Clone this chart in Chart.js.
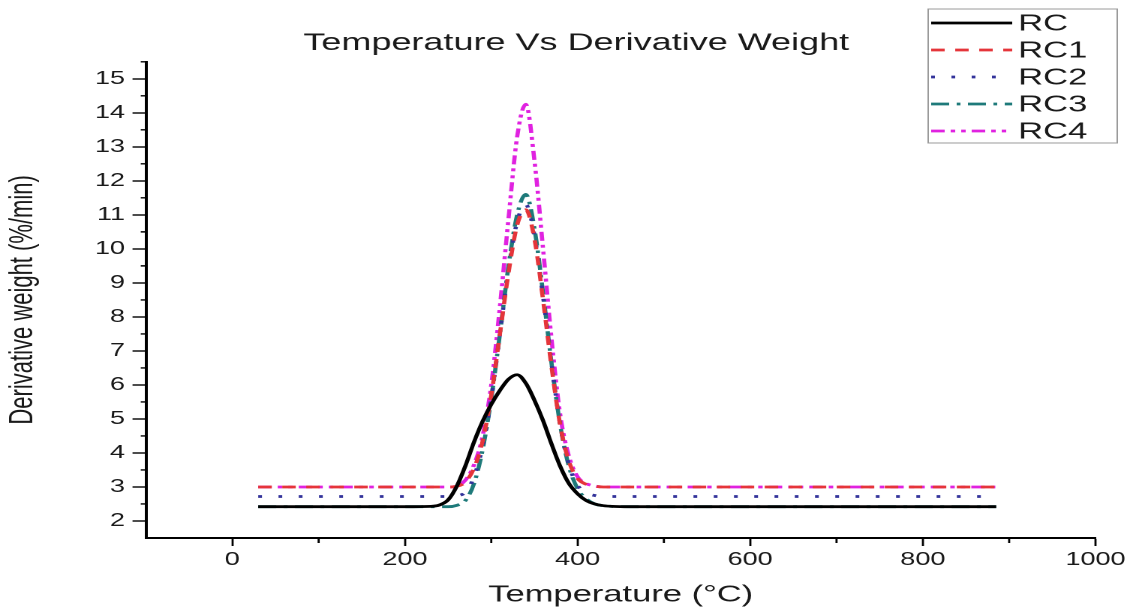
<!DOCTYPE html>
<html>
<head>
<meta charset="utf-8">
<script src="https://cdn.jsdelivr.net/npm/chart.js@4.4.1/dist/chart.umd.min.js"></script>
<style>
  html, body { margin: 0; padding: 0; background: #fff; }
  #c { display: block; width: 1130px; height: 612px; }
</style>
</head>
<body>
<canvas id="c" width="753" height="612" style="width:1130px;height:612px;"></canvas>
<script>
// ---- data ----
const temps = [30, 100, 200, 230, 240, 250, 260, 270, 280, 290, 300, 310, 320, 330, 340, 350, 360, 370, 380, 390, 400, 410, 420, 430, 440, 460, 500, 600, 700, 800, 885];
const rc  = [2.42, 2.42, 2.42, 2.43, 2.47, 2.62, 3.02, 3.62, 4.32, 4.93, 5.43, 5.84, 6.17, 6.3, 6.05, 5.55, 4.95, 4.25, 3.6, 3.1, 2.8, 2.6, 2.5, 2.45, 2.43, 2.42, 2.42, 2.42, 2.42, 2.42, 2.42];
const rc1 = [3.0, 3.0, 3.0, 3.0, 3.0, 3.0, 3.02, 3.15, 3.55, 4.35, 5.7, 7.5, 9.3, 10.7, 11.15, 10.3, 8.5, 6.5, 4.8, 3.75, 3.25, 3.08, 3.02, 3.0, 3.0, 3.0, 3.0, 3.0, 3.0, 3.0, 3.0];
const rc2 = [2.72, 2.72, 2.72, 2.72, 2.72, 2.72, 2.74, 2.85, 3.3, 4.2, 5.6, 7.5, 9.4, 10.8, 11.3, 10.4, 8.6, 6.6, 4.8, 3.65, 3.05, 2.82, 2.75, 2.72, 2.72, 2.72, 2.72, 2.72, 2.72, 2.72, 2.72];
const rc3 = [2.42, 2.42, 2.42, 2.42, 2.42, 2.42, 2.46, 2.6, 3.1, 4.1, 5.6, 7.5, 9.5, 11.0, 11.6, 10.6, 8.7, 6.6, 4.8, 3.6, 2.95, 2.65, 2.5, 2.45, 2.43, 2.42, 2.42, 2.42, 2.42, 2.42, 2.42];
const rc4 = [3.0, 3.0, 3.0, 3.0, 3.0, 3.0, 3.03, 3.2, 3.65, 4.5, 6.0, 8.3, 10.9, 13.3, 14.25, 12.6, 10.0, 7.3, 5.1, 3.9, 3.3, 3.1, 3.03, 3.0, 3.0, 3.0, 3.0, 3.0, 3.0, 3.0, 3.0];
const seriesLabels = ['RC', 'RC1', 'RC2', 'RC3', 'RC4'];
const xTickValues = [0, 200, 400, 600, 800, 1000];
const yTickValues = [2, 3, 4, 5, 6, 7, 8, 9, 10, 11, 12, 13, 14, 15];
const xMinorValues = [100, 300, 500, 700, 900];
const yMinorValues = [2.5, 3.5, 4.5, 5.5, 6.5, 7.5, 8.5, 9.5, 10.5, 11.5, 12.5, 13.5, 14.5, 15.5];

const FONT = "'Liberation Sans', Arial, Helvetica, sans-serif";
const TXT = '#1a1a1a';

function pts(vals) { return temps.map((t, i) => ({ x: t, y: vals[i] })); }

const styles = [
  { color: '#000000', dash: [] },
  { color: '#e5353a', dash: [9, 7] },
  { color: '#33339a', dash: [2.5, 11] },
  { color: '#1e7a7a', dash: [12, 5, 2.5, 5] },
  { color: '#e022e0', dash: [9, 4, 3, 4, 3, 4] }
];
const allVals = [rc, rc1, rc2, rc3, rc4];

const datasets = allVals.map((v, i) => ({
  label: seriesLabels[i],
  data: pts(v),
  borderColor: styles[i].color,
  backgroundColor: styles[i].color,
  borderDash: styles[i].dash,
  borderWidth: 2.8,
  pointRadius: 0,
  fill: false,
  cubicInterpolationMode: 'monotone'
}));

// minor ticks drawn through the scales
const minorTicks = {
  id: 'minorTicks',
  afterDraw(chart) {
    const { ctx, scales: { x, y }, chartArea } = chart;
    ctx.save();
    ctx.strokeStyle = '#000';
    ctx.lineWidth = 1.4;
    ctx.beginPath();
    xMinorValues.forEach(v => {
      const px = x.getPixelForValue(v);
      ctx.moveTo(px, chartArea.bottom);
      ctx.lineTo(px, chartArea.bottom + 5);
    });
    yMinorValues.forEach(v => {
      const py = y.getPixelForValue(v);
      ctx.moveTo(chartArea.left, py);
      ctx.lineTo(chartArea.left - 3.5, py);
    });
    ctx.stroke();
    ctx.restore();
  }
};

// legend box in the top-right corner
const boxLegend = {
  id: 'boxLegend',
  afterDraw(chart) {
    const { ctx } = chart;
    const bx = 618.5, by = 9, bw = 126, bh = 134;
    ctx.save();
    ctx.fillStyle = '#fff';
    ctx.fillRect(bx, by, bw, bh);
    ctx.strokeStyle = '#9a9a9a';
    ctx.lineWidth = 1;
    ctx.strokeRect(bx, by, bw, bh);
    ctx.font = '23px ' + FONT;
    ctx.textBaseline = 'middle';
    ctx.textAlign = 'left';
    chart.data.datasets.forEach((ds, i) => {
      const yy = by + 14 + i * 27;
      ctx.strokeStyle = ds.borderColor;
      ctx.lineWidth = 2.8;
      ctx.setLineDash(ds.borderDash || []);
      ctx.beginPath();
      ctx.moveTo(bx + 2, yy);
      ctx.lineTo(bx + 56, yy);
      ctx.stroke();
      ctx.setLineDash([]);
      ctx.fillStyle = TXT;
      ctx.fillText(ds.label, bx + 60, yy + 1);
    });
    ctx.restore();
  }
};

new Chart(document.getElementById('c'), {
  type: 'line',
  data: { datasets },
  options: {
    responsive: false,
    devicePixelRatio: 2,
    animation: false,
    layout: { padding: { left: 38, right: 23, top: 0, bottom: 0 } },
    plugins: {
      legend: { display: false },
      tooltip: { enabled: false },
      title: {
        display: true,
        text: 'Temperature Vs Derivative Weight',
        color: TXT,
        font: { family: FONT, size: 24, weight: 'normal' },
        padding: { top: 29, bottom: 4 }
      }
    },
    scales: {
      x: {
        type: 'linear',
        min: -100,
        max: 1000,
        afterBuildTicks(s) { s.ticks = xTickValues.map(v => ({ value: v })); },
        ticks: {
          color: TXT,
          font: { family: FONT, size: 18 },
          padding: 3,
          maxRotation: 0,
          autoSkip: false,
          callback: v => String(v)
        },
        grid: { drawOnChartArea: false, drawTicks: true, tickLength: 8, tickColor: '#000', tickWidth: 1.4 },
        border: { color: '#000', width: 2 },
        title: {
          display: true,
          text: 'Temperature (°C)',
          color: TXT,
          font: { family: FONT, size: 23 },
          padding: { top: 0, bottom: 3 }
        },
        afterFit(s) { s.height = 74; }
      },
      y: {
        type: 'linear',
        min: 1.5,
        max: 15.5,
        afterBuildTicks(s) { s.ticks = yTickValues.map(v => ({ value: v })); },
        ticks: {
          color: TXT,
          font: { family: FONT, size: 18 },
          padding: 5,
          autoSkip: false,
          callback: v => String(v)
        },
        grid: { drawOnChartArea: false, drawTicks: true, tickLength: 9, tickColor: '#000', tickWidth: 1.4 },
        border: { color: '#000', width: 2 },
        title: {
          display: true,
          text: 'Derivative weight (%/min)',
          color: TXT,
          font: { family: FONT, size: 22 },
          padding: { top: -36, bottom: 0 }
        },
        afterFit(s) { s.width = 59.3; }
      }
    }
  },
  plugins: [minorTicks, boxLegend]
});
</script>
</body>
</html>
